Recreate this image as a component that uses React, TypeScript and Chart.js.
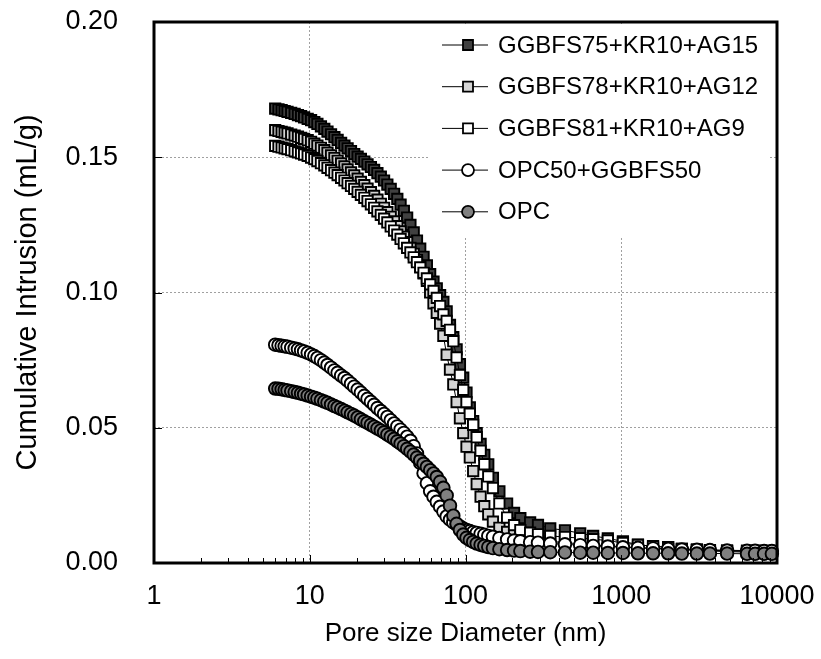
import React, { useEffect, useRef } from "react";
import { Chart, registerables } from "chart.js";

Chart.register(...registerables);

// Pore diameter (nm) sample points
const poreDiameter = [
  6.0, 6.3, 6.6, 6.9, 7.2, 7.6, 8.0, 8.4, 8.8, 9.2,
  9.7, 10.2, 10.7, 11.2, 11.8, 12.4, 13.0, 13.7, 14.4, 15.1,
  15.9, 16.7, 17.5, 18.4, 19.3, 20.3, 21.3, 22.4, 23.5, 24.7,
  25.9, 27.2, 28.6, 30.0, 31.5, 33.1, 34.8, 36.5, 38.3, 40.2,
  42.2, 44.3, 46.5, 48.8, 51.2, 53.8, 56.5, 59.3, 62.3, 65.4,
  68.7, 72.1, 75.7, 79.5, 83.5, 87.7, 92.1, 96.7, 101.5, 106.6,
  112, 118, 125, 132, 140, 150, 165, 185, 205, 225,
  260, 292, 350, 435, 545, 660, 820, 1025, 1280, 1600,
  2000, 2450, 3060, 3710, 4780, 6420, 7230, 8260, 9270,
];

const ggbfs75 = [
  0.1680, 0.1677, 0.1674, 0.1671, 0.1668, 0.1664, 0.1660, 0.1656, 0.1652, 0.1647,
  0.1642, 0.1637, 0.1630, 0.1623, 0.1614, 0.1605, 0.1595, 0.1585, 0.1574, 0.1564,
  0.1553, 0.1543, 0.1533, 0.1523, 0.1512, 0.1502, 0.1494, 0.1484, 0.1474, 0.1464,
  0.1453, 0.1441, 0.1428, 0.1414, 0.1399, 0.1383, 0.1365, 0.1346, 0.1325, 0.1302,
  0.1277, 0.1250, 0.1222, 0.1192, 0.1162, 0.1132, 0.1100, 0.1068, 0.1040, 0.1015,
  0.0990, 0.0965, 0.0930, 0.0880, 0.0835, 0.0790, 0.0735, 0.0685, 0.0630, 0.0575,
  0.0525, 0.0480, 0.0440, 0.0400, 0.0365, 0.0315, 0.0265, 0.0220, 0.0185, 0.0166,
  0.0150, 0.0141, 0.0128, 0.0121, 0.0110, 0.0100, 0.0091, 0.0080, 0.0068, 0.0061,
  0.0059, 0.0052, 0.0050, 0.0048, 0.0047, 0.0046, 0.0046, 0.0045, 0.0045,
];

const ggbfs78 = [
  0.1600, 0.1597, 0.1594, 0.1591, 0.1588, 0.1584, 0.1580, 0.1576, 0.1572, 0.1568,
  0.1563, 0.1557, 0.1550, 0.1543, 0.1535, 0.1526, 0.1517, 0.1507, 0.1497, 0.1487,
  0.1477, 0.1466, 0.1455, 0.1444, 0.1433, 0.1421, 0.1409, 0.1397, 0.1384, 0.1371,
  0.1357, 0.1343, 0.1328, 0.1313, 0.1297, 0.1280, 0.1263, 0.1245, 0.1226, 0.1206,
  0.1186, 0.1165, 0.1143, 0.1120, 0.1096, 0.1071, 0.1043, 0.1000, 0.0960, 0.0925,
  0.0885, 0.0840, 0.0770, 0.0715, 0.0660, 0.0595, 0.0535, 0.0480, 0.0430, 0.0390,
  0.0340, 0.0292, 0.0245, 0.0210, 0.0180, 0.0153, 0.0130, 0.0115, 0.0104, 0.0097,
  0.0090, 0.0085, 0.0080, 0.0075, 0.0071, 0.0067, 0.0063, 0.0060, 0.0057, 0.0054,
  0.0051, 0.0049, 0.0047, 0.0046, 0.0044, 0.0043, 0.0043, 0.0042, 0.0042,
];

const ggbfs81 = [
  0.1542, 0.1539, 0.1536, 0.1533, 0.1530, 0.1526, 0.1522, 0.1518, 0.1514, 0.1510,
  0.1505, 0.1499, 0.1493, 0.1486, 0.1478, 0.1470, 0.1461, 0.1452, 0.1443, 0.1434,
  0.1424, 0.1414, 0.1404, 0.1394, 0.1383, 0.1372, 0.1361, 0.1350, 0.1338, 0.1326,
  0.1313, 0.1300, 0.1287, 0.1273, 0.1259, 0.1244, 0.1229, 0.1214, 0.1198, 0.1182,
  0.1165, 0.1148, 0.1130, 0.1112, 0.1093, 0.1073, 0.1052, 0.1030, 0.1006, 0.0980,
  0.0950, 0.0919, 0.0895, 0.0862, 0.0820, 0.0760, 0.0695, 0.0640, 0.0595, 0.0552,
  0.0511, 0.0465, 0.0415, 0.0365, 0.0320, 0.0277, 0.0220, 0.0168, 0.0140, 0.0122,
  0.0112, 0.0106, 0.0100, 0.0096, 0.0092, 0.0088, 0.0083, 0.0074, 0.0067, 0.0062,
  0.0058, 0.0052, 0.0048, 0.0045, 0.0042, 0.0040, 0.0040, 0.0039, 0.0039,
];

const opc50 = [
  0.0807, 0.0805, 0.0803, 0.0801, 0.0799, 0.0796, 0.0793, 0.0790, 0.0786, 0.0782,
  0.0777, 0.0771, 0.0765, 0.0758, 0.0750, 0.0741, 0.0732, 0.0722, 0.0712, 0.0703,
  0.0693, 0.0684, 0.0674, 0.0663, 0.0652, 0.0641, 0.0630, 0.0618, 0.0607, 0.0596,
  0.0585, 0.0573, 0.0562, 0.0551, 0.0540, 0.0528, 0.0516, 0.0505, 0.0493, 0.0481,
  0.0467, 0.0452, 0.0432, 0.0405, 0.0370, 0.0332, 0.0295, 0.0265, 0.0245, 0.0226,
  0.0208, 0.0190, 0.0172, 0.0160, 0.0150, 0.0142, 0.0135, 0.0128, 0.0122, 0.0118,
  0.0114, 0.0111, 0.0108, 0.0104, 0.0100, 0.0097, 0.0092, 0.0087, 0.0083, 0.0080,
  0.0077, 0.0075, 0.0072, 0.0069, 0.0066, 0.0063, 0.0061, 0.0058, 0.0056, 0.0054,
  0.0052, 0.0050, 0.0049, 0.0048, 0.0046, 0.0045, 0.0045, 0.0044, 0.0044,
];

const opc = [
  0.0645, 0.0644, 0.0642, 0.0640, 0.0638, 0.0635, 0.0632, 0.0629, 0.0626, 0.0623,
  0.0619, 0.0615, 0.0611, 0.0607, 0.0602, 0.0597, 0.0592, 0.0586, 0.0580, 0.0575,
  0.0569, 0.0563, 0.0557, 0.0551, 0.0545, 0.0538, 0.0531, 0.0524, 0.0518, 0.0511,
  0.0504, 0.0497, 0.0490, 0.0483, 0.0475, 0.0467, 0.0459, 0.0450, 0.0441, 0.0432,
  0.0422, 0.0412, 0.0401, 0.0390, 0.0379, 0.0367, 0.0355, 0.0343, 0.0331, 0.0318,
  0.0300, 0.0278, 0.0250, 0.0212, 0.0175, 0.0145, 0.0122, 0.0105, 0.0093, 0.0085,
  0.0078, 0.0072, 0.0067, 0.0063, 0.0059, 0.0055, 0.0051, 0.0048, 0.0046, 0.0044,
  0.0042, 0.0041, 0.0040, 0.0039, 0.0038, 0.0038, 0.0037, 0.0037, 0.0036, 0.0036,
  0.0036, 0.0035, 0.0035, 0.0035, 0.0035, 0.0034, 0.0034, 0.0034, 0.0034,
];

const seriesNames = [
  "GGBFS75+KR10+AG15",
  "GGBFS78+KR10+AG12",
  "GGBFS81+KR10+AG9",
  "OPC50+GGBFS50",
  "OPC",
];
const seriesValues = [ggbfs75, ggbfs78, ggbfs81, opc50, opc];
const seriesFill = ["#404040", "#d4d4d4", "#ffffff", "#ffffff", "#808080"];
const seriesShape = ["rect", "rect", "rect", "circle", "circle"];

const xTickValues = [1, 10, 100, 1000, 10000];
const yTickValues = [0, 0.05, 0.1, 0.15, 0.2];
const xTitle = "Pore size Diameter (nm)";
const yTitle = "Cumulative Intrusion (mL/g)";

const FONT = '"Liberation Sans", Arial, Helvetica, sans-serif';

function drawMarker(ctx: CanvasRenderingContext2D, shape: string, x: number, y: number, size: number, fill: string) {
  ctx.beginPath();
  if (shape === "rect") {
    ctx.rect(x - size / 2, y - size / 2, size, size);
  } else {
    ctx.arc(x, y, size / 2, 0, Math.PI * 2);
  }
  ctx.fillStyle = fill;
  ctx.fill();
  ctx.lineWidth = 1.8;
  ctx.strokeStyle = "#000";
  ctx.stroke();
}

const decorPlugin = {
  id: "decor",
  afterDatasetsDraw(chart: any) {
    const { ctx, chartArea: a, scales } = chart;
    const xs = scales.x;
    const ys = scales.y;
    ctx.save();

    // legend box (white, covers grid)
    const bx = a.left + 276;
    const by = a.top + 4;
    ctx.fillStyle = "#ffffff";
    ctx.fillRect(bx, by, a.right - 9 - bx, 210);

    ctx.font = `24px ${FONT}`;
    ctx.textBaseline = "middle";
    ctx.textAlign = "left";
    seriesNames.forEach((name, i) => {
      const ly = a.top + 23 + i * 41.7;
      ctx.beginPath();
      ctx.moveTo(a.left + 288, ly);
      ctx.lineTo(a.left + 334, ly);
      ctx.lineWidth = 1;
      ctx.strokeStyle = "#000";
      ctx.stroke();
      drawMarker(ctx, seriesShape[i], a.left + 314, ly, seriesShape[i] === "rect" ? 10 : 12, seriesFill[i]);
      ctx.fillStyle = "#000";
      ctx.fillText(name, a.left + 344, ly + 1);
    });

    // inner tick marks
    ctx.strokeStyle = "#000";
    ctx.lineWidth = 1;
    yTickValues.slice(1, -1).forEach((v) => {
      const py = Math.round(ys.getPixelForValue(v)) + 0.5;
      ctx.beginPath();
      ctx.moveTo(a.left, py);
      ctx.lineTo(a.left + 8, py);
      ctx.stroke();
    });
    xTickValues.slice(0, -1).forEach((d) => {
      for (let k = 2; k <= 10; k++) {
        const v = d * k;
        if (v > 10000) continue;
        const px = Math.round(xs.getPixelForValue(v)) + 0.5;
        const len = k === 10 ? 8 : 5;
        ctx.beginPath();
        ctx.moveTo(px, a.bottom);
        ctx.lineTo(px, a.bottom - len);
        ctx.stroke();
      }
    });

    // frame
    ctx.lineWidth = 3;
    ctx.strokeStyle = "#000";
    ctx.strokeRect(a.left, a.top, a.right - a.left, a.bottom - a.top);

    // axis titles
    ctx.fillStyle = "#000";
    ctx.font = `26px ${FONT}`;
    ctx.textAlign = "center";
    ctx.textBaseline = "middle";
    ctx.fillText(xTitle, (a.left + a.right) / 2, 634);
    ctx.save();
    ctx.translate(28, (a.top + a.bottom) / 2);
    ctx.rotate(-Math.PI / 2);
    ctx.font = `29px ${FONT}`;
    ctx.fillText(yTitle, 0, 0);
    ctx.restore();

    ctx.restore();
  },
};

export default function App() {
  const canvasRef = useRef<HTMLCanvasElement | null>(null);

  useEffect(() => {
    if (!canvasRef.current) return;
    const datasets = seriesNames.map((name, i) => ({
      label: name,
      data: poreDiameter.map((d, j) => ({ x: d, y: seriesValues[i][j] })),
      showLine: true,
      borderColor: "#000",
      borderWidth: 1,
      backgroundColor: seriesFill[i],
      pointStyle: seriesShape[i],
      pointRadius: seriesShape[i] === "rect" ? 7.3 : 6.3,
      pointBorderWidth: 1.9,
      pointBorderColor: "#000",
      pointBackgroundColor: seriesFill[i],
      tension: 0,
      order: 5 - i,
      clip: 6,
    }));

    const chart = new Chart(canvasRef.current, {
      type: "scatter",
      data: { datasets },
      plugins: [decorPlugin],
      options: {
        responsive: false,
        animation: false,
        devicePixelRatio: 1,
        layout: { padding: { left: 0, top: 22, right: 44, bottom: 0 }, autoPadding: false },
        plugins: { legend: { display: false }, tooltip: { enabled: false } },
        scales: {
          x: {
            type: "logarithmic",
            min: 1,
            max: 10000,
            afterBuildTicks: (s: any) => {
              s.ticks = xTickValues.map((v) => ({ value: v }));
            },
            afterFit: (s: any) => {
              s.height = 96;
              s.paddingLeft = 0;
              s.paddingRight = 0;
              s.paddingTop = 0;
              s.paddingBottom = 0;
            },
            ticks: {
              callback: (v: any) => String(v),
              font: { family: FONT, size: 27 },
              color: "#000",
              padding: 17,
              maxRotation: 0,
              autoSkip: false,
            },
            grid: { color: "#a0a0a0", lineWidth: 1, drawTicks: false },
            border: { display: false, dash: [2, 2] },
          },
          y: {
            type: "linear",
            min: 0,
            max: 0.2,
            afterBuildTicks: (s: any) => {
              s.ticks = yTickValues.map((v) => ({ value: v }));
            },
            afterFit: (s: any) => {
              s.width = 154;
              s.paddingLeft = 0;
              s.paddingRight = 0;
              s.paddingTop = 0;
              s.paddingBottom = 0;
            },
            ticks: {
              callback: (v: any) => Number(v).toFixed(2),
              font: { family: FONT, size: 27 },
              color: "#000",
              padding: 36,
            },
            grid: { color: "#a0a0a0", lineWidth: 1, drawTicks: false },
            border: { display: false, dash: [2, 2] },
          },
        },
      },
    });
    return () => chart.destroy();
  }, []);

  return (
    <div style={{ position: "absolute", left: 0, top: 0, width: 821, height: 659, background: "#fff" }}>
      <canvas ref={canvasRef} width={821} height={659} style={{ display: "block" }} />
    </div>
  );
}
